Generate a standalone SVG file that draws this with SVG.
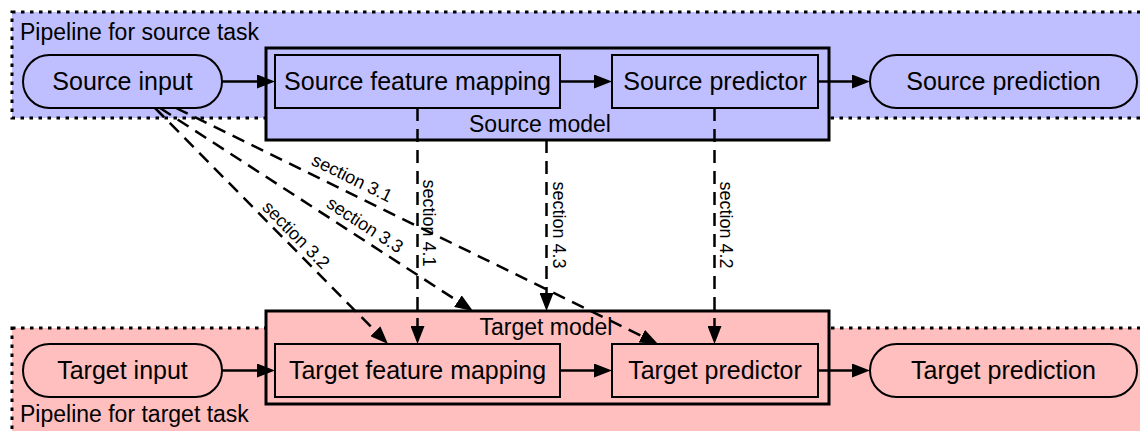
<svg xmlns="http://www.w3.org/2000/svg" width="1140" height="431" viewBox="0 0 1140 431">
<style>
text{font-family:"Liberation Sans",Arial,Helvetica,sans-serif;fill:#000}
.node{font-size:25px;text-anchor:middle}
.lbl{font-size:23px}
.mlbl{font-size:23px;text-anchor:middle}
.sec{font-size:18px;text-anchor:middle}
.pipe{stroke:#000;stroke-width:3;stroke-dasharray:3.5 5.5}
.box{stroke:#000;stroke-width:2}
.model{stroke:#000;stroke-width:3}
.src{fill:#bfbfff}
.tgt{fill:#ffbfbf}
.solid{stroke:#000;stroke-width:2.5;fill:none;marker-end:url(#ah)}
.dash{stroke:#000;stroke-width:2.5;fill:none;stroke-dasharray:13 8;marker-end:url(#ah)}
</style>
<defs>
<marker id="ah" markerWidth="18" markerHeight="14" refX="8" refY="7" orient="auto" markerUnits="userSpaceOnUse">
<path d="M0,0 L18,7 L0,14 z" fill="#000"/>
</marker>
</defs>
<rect width="1140" height="431" fill="#fff"/>

<g id="pipeline-source">
<rect class="pipe src" x="12" y="12" width="1150" height="106"/>
<text class="lbl" x="20" y="40">Pipeline for source task</text>
</g>
<g id="pipeline-target">
<rect class="pipe tgt" x="12" y="328" width="1150" height="120"/>
<text class="lbl" x="20" y="422">Pipeline for target task</text>
</g>

<g id="source-model">
<rect class="model src" x="266" y="48" width="563" height="92"/>
<text class="mlbl" x="540" y="132">Source model</text>
</g>
<g id="target-model">
<rect class="model tgt" x="266" y="311" width="563" height="93"/>
<text class="mlbl" x="546" y="335">Target model</text>
</g>

<g id="source-input">
<rect class="box src" x="23" y="55" width="199" height="53" rx="26.5"/>
<text class="node" x="122.5" y="90">Source input</text>
</g>
<g id="source-feature-mapping">
<rect class="box src" x="275" y="55" width="285" height="53"/>
<text class="node" x="417.5" y="90">Source feature mapping</text>
</g>
<g id="source-predictor">
<rect class="box src" x="612" y="55" width="206" height="53"/>
<text class="node" x="715" y="90">Source predictor</text>
</g>
<g id="source-prediction">
<rect class="box src" x="870" y="55" width="267" height="53" rx="26.5"/>
<text class="node" x="1003.5" y="90">Source prediction</text>
</g>

<g id="target-input">
<rect class="box tgt" x="23" y="344" width="199" height="53" rx="26.5"/>
<text class="node" x="122.5" y="379">Target input</text>
</g>
<g id="target-feature-mapping">
<rect class="box tgt" x="275" y="344" width="285" height="53"/>
<text class="node" x="417.5" y="379">Target feature mapping</text>
</g>
<g id="target-predictor">
<rect class="box tgt" x="612" y="344" width="206" height="53"/>
<text class="node" x="715" y="379">Target predictor</text>
</g>
<g id="target-prediction">
<rect class="box tgt" x="870" y="344" width="267" height="53" rx="26.5"/>
<text class="node" x="1003.5" y="379">Target prediction</text>
</g>

<g id="connectors">
<line class="solid" x1="222" y1="81.5" x2="265" y2="81.5"/>
<line class="solid" x1="560" y1="81.5" x2="602" y2="81.5"/>
<line class="solid" x1="818" y1="81.5" x2="860" y2="81.5"/>
<line class="solid" x1="222" y1="370.5" x2="265" y2="370.5"/>
<line class="solid" x1="560" y1="370.5" x2="602" y2="370.5"/>
<line class="solid" x1="818" y1="370.5" x2="860" y2="370.5"/>

<line class="dash" x1="155" y1="108" x2="380.97" y2="336.88"/>
<line class="dash" x1="160" y1="108" x2="464.61" y2="305.56"/>
<line class="dash" x1="176" y1="108" x2="649.02" y2="339.6"/>
<line class="dash" x1="417.5" y1="108" x2="417.5" y2="334"/>
<line class="dash" x1="546.5" y1="140" x2="546.5" y2="301"/>
<line class="dash" x1="714.5" y1="108" x2="714.5" y2="334"/>

<text class="sec" x="349.4" y="183.4" transform="rotate(26.1 349.4 183.4)">section 3.1</text>
<text class="sec" x="361.7" y="230" transform="rotate(33 361.7 230)">section 3.3</text>
<text class="sec" x="291.7" y="239.2" transform="rotate(45.4 291.7 239.2)">section 3.2</text>
<text class="sec" x="423" y="223" transform="rotate(90 423 223)">section 4.1</text>
<text class="sec" x="553" y="225" transform="rotate(90 553 225)">section 4.3</text>
<text class="sec" x="720" y="225" transform="rotate(90 720 225)">section 4.2</text>
</g>
</svg>
